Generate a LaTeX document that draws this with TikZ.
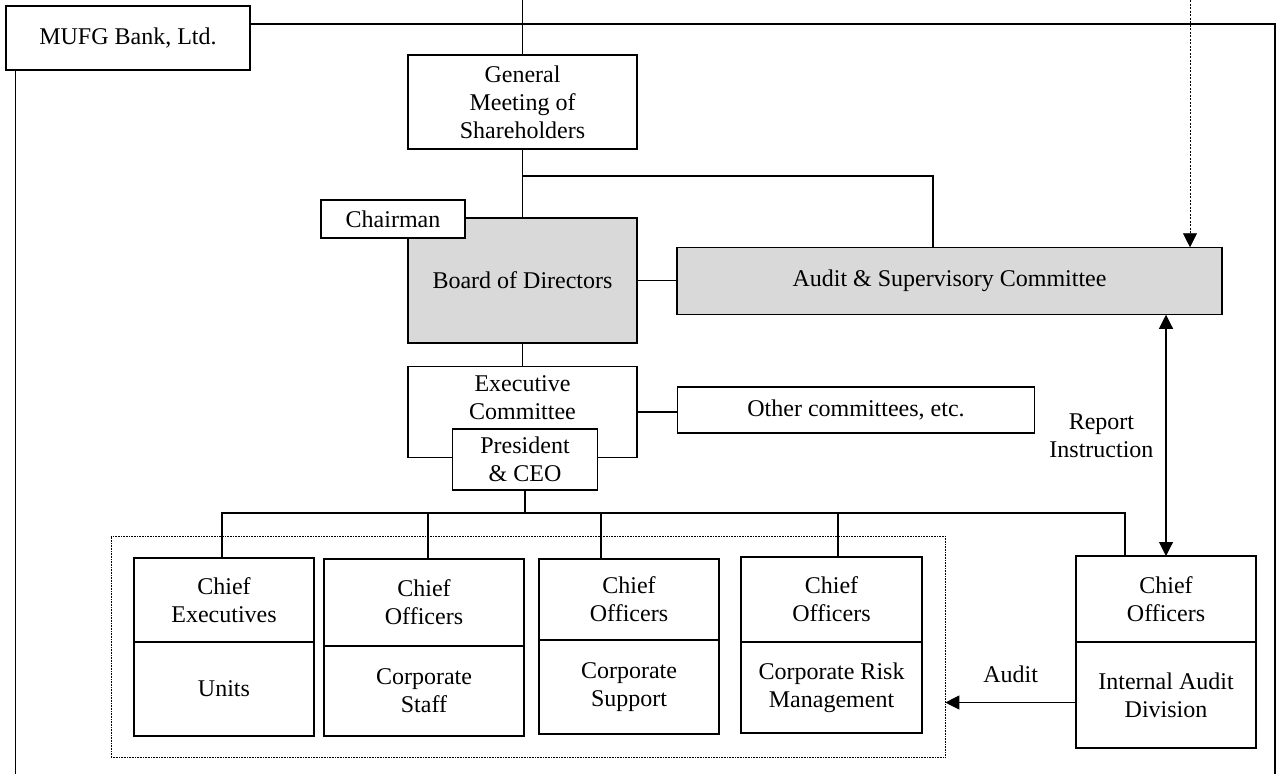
\documentclass[tikz,border=0pt]{standalone}
\usepackage{fontspec}
\setmainfont{Liberation Serif}
\usetikzlibrary{positioning, arrows.meta, fit, backgrounds}
\definecolor{boardgray}{RGB}{217,217,217}

\begin{document}
\begin{tikzpicture}[
    x=1pt, y=-1pt,
    box/.style={draw, rectangle, align=center, fill=white, line width=1.1pt, inner sep=0pt, outer sep=0pt, font=\fontsize{24}{28}\selectfont},
    shaded/.style={box, fill=boardgray},
    txt/.style={align=center, inner sep=0pt, font=\fontsize{24}{28}\selectfont},
    link/.style={line width=1.1pt},
    heavy/.style={line width=1.8pt},
    arr/.style={-{Triangle[length=14pt, width=14pt]}, line width=1.1pt},
    dblarr/.style={{Triangle[length=14pt, width=14pt]}-{Triangle[length=14pt, width=14pt]}, line width=1.1pt}
]
    \useasboundingbox (0,0) rectangle (1279,774);

    % Bank frame
    \node[box, minimum width=244pt, minimum height=64pt] (mufg) at (128,38) {MUFG Bank, Ltd.};
    \coordinate (corner) at (1275,774);
    \draw[link] ([yshift=14pt]mufg.east) -| (corner);
    \draw[link] ([xshift=9.5pt]mufg.south west) -- ([xshift=9.5pt]mufg.south west |- corner);

    % Shareholders, board and audit committee
    \node[box, minimum width=229pt, minimum height=94pt] (gms) at (522.5,102) {General\\Meeting of\\Shareholders};
    \node[shaded, minimum width=229pt, minimum height=125pt] (board) at (522.5,280.5) {Board of Directors};
    \node[box, minimum width=144pt, minimum height=38pt] (chairman) at (393,219) {Chairman};
    \node[shaded, minimum width=545pt, minimum height=67.5pt] (audit) at (949.5,281) {Audit \& Supervisory Committee};
    \coordinate (shtop) at (522.5,0);
    \coordinate (ext) at (1190,0);
    \coordinate (split) at (522.5,176);

    \draw[link] (shtop) -- (gms.north);
    \draw[link] (gms.south) -- (board.north);
    \draw[heavy] (split) -| ([xshift=-16.5pt]audit.north);
    \draw[heavy] (board.east) -- (board.east -| audit.west);
    \draw[arr, line width=0.7pt, dash pattern=on 2pt off 1.5pt] (ext) -- (ext |- audit.north);

    % Executive committee
    \node[box, minimum width=229pt, minimum height=91pt, label={[txt, anchor=north, yshift=-8.5pt]north:Executive\\Committee}] (exec) at (522.5,412) {};
    \node[box, minimum width=145pt, minimum height=61pt] (president) at (525,459.5) {President\\\& CEO};
    \node[box, minimum width=357pt, minimum height=46pt] (other) at (856,410) {Other committees, etc.};

    \draw[link] (board.south) -- (exec.north);
    \draw[heavy] (exec.east) -- (exec.east -| other.west);

    % Chief executives and chief officers
    \node[box, anchor=north west, minimum width=180pt, minimum height=84pt] (unitshead) at (134,558) {Chief\\Executives};
    \node[box, minimum width=180pt, minimum height=94pt, below=0pt of unitshead] (units) {Units};
    \node[box, anchor=north west, minimum width=200pt, minimum height=87pt] (staffhead) at (324,559) {Chief\\Officers};
    \node[box, minimum width=200pt, minimum height=90pt, below=0pt of staffhead] (staff) {Corporate\\Staff};
    \node[box, anchor=north west, minimum width=180pt, minimum height=81pt] (supporthead) at (539,559) {Chief\\Officers};
    \node[box, minimum width=180pt, minimum height=94pt, below=0pt of supporthead] (support) {Corporate\\Support};
    \node[box, anchor=north west, minimum width=181pt, minimum height=85pt] (riskhead) at (741,557) {Chief\\Officers};
    \node[box, minimum width=181pt, minimum height=91pt, below=0pt of riskhead] (risk) {Corporate Risk\\Management};
    \node[box, anchor=north west, minimum width=180pt, minimum height=86pt] (iadhead) at (1076,556) {Chief\\Officers};
    \node[box, minimum width=180pt, minimum height=106pt, below=0pt of iadhead] (iad) {Internal Audit\\Division};

    % Reporting lines
    \coordinate (bus) at (524,513);
    \draw[link] (president.south) -- (president.south |- bus);
    \draw[link] ([xshift=-2pt]unitshead.north) |- (bus) -| ([xshift=-41pt]iadhead.north);
    \draw[link] ([xshift=4pt]staffhead.north) -- ([xshift=4pt]staffhead.north |- bus);
    \draw[link] ([xshift=-28pt]supporthead.north) -- ([xshift=-28pt]supporthead.north |- bus);
    \draw[link] ([xshift=6.5pt]riskhead.north) -- ([xshift=6.5pt]riskhead.north |- bus);
    \draw[dblarr] (iadhead.north |- audit.south) -- node[txt, midway, left=12pt] {Report\\Instruction} (iadhead.north);

    % Audited divisions
    \begin{scope}[on background layer]
        \node[draw, densely dotted, line width=0.6pt, inner xsep=23pt, inner ysep=21pt, fit=(unitshead)(units)(riskhead)(risk)] (lines) {};
    \end{scope}
    \draw[arr] ([yshift=-7.5pt]iad.west) -- node[txt, midway, above=19pt] {Audit} ([yshift=-7.5pt]iad.west -| lines.east);
\end{tikzpicture}
\end{document}
